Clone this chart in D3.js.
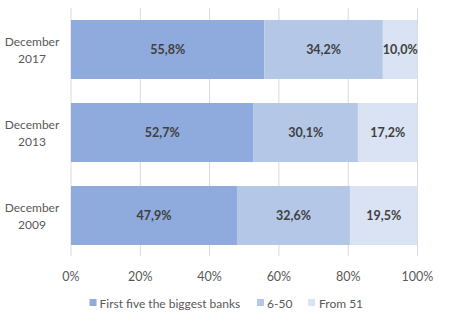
<!DOCTYPE html>
<html><head><meta charset="utf-8">
<script src="https://cdn.jsdelivr.net/npm/d3@7"></script>
<style>body{margin:0;background:#fff;} svg{display:block;font-family:Lato,"Open Sans",sans-serif;}</style>
</head><body>
<svg id="c" width="453" height="322"></svg>
<script>
const categories = ["December 2017", "December 2013", "December 2009"];
const seriesNames = ["First five the biggest banks", "6-50", "From 51"];
const top5 = [55.8, 52.7, 47.9];
const mid = [34.2, 30.1, 32.6];
const rest = [10.0, 17.2, 19.5];
const ticks = [0, 20, 40, 60, 80, 100];
const colors = ["#8FAADC", "#B4C7E7", "#DAE3F3"];

const svg = d3.select("#c");
const x = d3.scaleLinear().domain([0, 100]).range([71, 417.5]);
const y = d3.scaleBand().domain(categories).range([8, 257]).paddingInner(0.29).paddingOuter(0.145);

// gridlines
svg.append("g").selectAll("line").data(ticks).join("line")
  .attr("x1", d => x(d)).attr("x2", d => x(d))
  .attr("y1", 8).attr("y2", 256)
  .attr("stroke", "#d9d9d9").attr("stroke-width", 1);

const rows = categories.map((c, i) => ({cat: c, vals: [top5[i], mid[i], rest[i]]}));
const stackData = rows.map(r => {
  let acc = 0;
  return r.vals.map((v, k) => { const s = {cat: r.cat, k, v, x0: acc, x1: acc + v}; acc += v; return s; });
}).flat();

svg.append("g").selectAll("rect").data(stackData).join("rect")
  .attr("x", d => x(d.x0)).attr("width", d => x(d.x1) - x(d.x0))
  .attr("y", d => y(d.cat)).attr("height", y.bandwidth())
  .attr("fill", d => colors[d.k]);

svg.append("g").selectAll("text").data(stackData).join("text")
  .attr("x", d => (x(d.x0) + x(d.x1)) / 2)
  .attr("y", d => y(d.cat) + y.bandwidth() / 2 + 4.5)
  .attr("text-anchor", "middle")
  .attr("font-size", 12.5).attr("font-weight", "bold").attr("fill", "#404040")
  .text(d => d.v.toFixed(1).replace(".", ",") + "%");

// category labels
const cl = svg.append("g").selectAll("text").data(categories).join("text")
  .attr("text-anchor", "middle").attr("font-size", 12).attr("fill", "#595959");
cl.each(function(d) {
  const parts = d.split(" ");
  const t = d3.select(this);
  const cy = y(d) + y.bandwidth() / 2;
  parts.forEach((p, i) => {
    t.append("tspan").attr("x", 32).attr("y", cy - 4 + i * 17).text(p);
  });
});

// x axis labels
svg.append("g").selectAll("text").data(ticks).join("text")
  .attr("x", d => x(d)).attr("y", 281)
  .attr("text-anchor", "middle").attr("font-size", 12.5).attr("fill", "#595959")
  .text(d => d + "%");

// legend
const legX = [89.5, 257, 308];
const lg = svg.append("g").selectAll("g").data(seriesNames).join("g")
  .attr("transform", (d, i) => `translate(${legX[i]},303)`);
lg.append("rect").attr("x", 0).attr("y", -4).attr("width", 7).attr("height", 7).attr("fill", (d, i) => colors[i]);
lg.append("text").attr("x", (d, i) => i === 2 ? 11 : 10).attr("y", 4.5).attr("font-size", 12).attr("fill", "#595959").text(d => d);
</script>
</body></html>
